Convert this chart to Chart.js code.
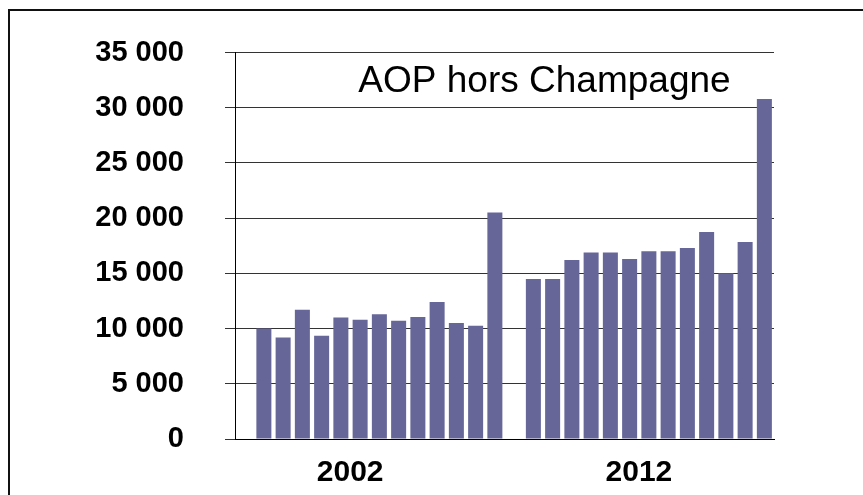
<!DOCTYPE html>
<html>
<head>
<meta charset="utf-8">
<script src="https://cdn.jsdelivr.net/npm/chart.js@4/dist/chart.umd.min.js"></script>
<style>
  html, body { margin: 0; padding: 0; background: #fff; overflow: hidden; }
  canvas { display: block; }
</style>
</head>
<body>
<canvas id="chart" width="863" height="495"></canvas>
<script>
// Volumes per period, two years side by side
const years = ['2002', '2012'];
const values2002 = [10000, 9200, 11700, 9350, 11000, 10800, 11300, 10700, 11050, 12400, 10500, 10250, 20500];
const values2012 = [14500, 14500, 16200, 16900, 16900, 16300, 17000, 17000, 17300, 18750, 15000, 17850, 30800];
const yMin = 0;
const yMax = 35000;
const yStep = 5000;
const chartTitle = 'AOP hors Champagne';

// One empty slot before each year's group; the year label goes under a bar near the group's middle
const groups = [values2002, values2012];
const labelAt = [5, 6];
const labels = [];
const data = [];
groups.forEach((vals, g) => {
  labels.push('');
  data.push(null);
  vals.forEach((v, i) => {
    labels.push(i === labelAt[g] ? years[g] : '');
    data.push(v);
  });
});

const fmt = v => String(v).replace(/\B(?=(\d{3})+(?!\d))/g, ' ');

// White background and the outer frame line (top and left edges)
const framePlugin = {
  id: 'frame',
  beforeDraw(chart) {
    const ctx = chart.ctx;
    ctx.save();
    ctx.fillStyle = '#fff';
    ctx.fillRect(0, 0, chart.width, chart.height);
    ctx.strokeStyle = '#111';
    ctx.lineWidth = 2;
    ctx.beginPath();
    ctx.moveTo(9, chart.height + 5);
    ctx.lineTo(9, 10);
    ctx.lineTo(chart.width + 5, 10);
    ctx.stroke();
    ctx.restore();
  }
};

// Title drawn inside the plot area, upper right
const innerTitle = {
  id: 'innerTitle',
  afterDatasetsDraw(chart) {
    const ctx = chart.ctx;
    ctx.save();
    ctx.font = '37px "Liberation Sans", Arial, sans-serif';
    ctx.fillStyle = '#000';
    ctx.textAlign = 'center';
    ctx.textBaseline = 'alphabetic';
    ctx.fillText(chartTitle, 544.5, 92);
    ctx.restore();
  }
};

new Chart(document.getElementById('chart'), {
  type: 'bar',
  data: {
    labels: labels,
    datasets: [{
      data: data,
      backgroundColor: '#666699',
      borderWidth: 0,
      barPercentage: 0.78,
      categoryPercentage: 1.0
    }]
  },
  options: {
    responsive: false,
    animation: false,
    devicePixelRatio: 1,
    layout: { padding: { left: 0, top: 52.5, right: 89, bottom: 0 } },
    plugins: {
      legend: { display: false },
      title: { display: false },
      tooltip: { enabled: false }
    },
    scales: {
      x: {
        grid: { display: false },
        border: { display: true, color: '#000', width: 1 },
        ticks: {
          autoSkip: false,
          maxRotation: 0,
          minRotation: 0,
          padding: 8,
          labelOffset: -10,
          color: '#000',
          font: { family: '"Liberation Sans", Arial, sans-serif', size: 30, weight: 'bold' }
        },
        afterFit(s) { s.height = 56; }
      },
      y: {
        min: yMin,
        max: yMax,
        grid: { color: '#333', tickColor: '#333', tickLength: 10, lineWidth: 1 },
        border: { display: true, color: '#000', width: 1 },
        ticks: {
          stepSize: yStep,
          padding: 41,
          color: '#000',
          font: { family: '"Liberation Sans", Arial, sans-serif', size: 29, weight: 'bold' },
          callback: v => fmt(v)
        },
        afterFit(s) {
          s.width = 235;
          s.paddingTop = 17;
          s.paddingBottom = 17;
        }
      }
    }
  },
  plugins: [framePlugin, innerTitle]
});
</script>
</body>
</html>
